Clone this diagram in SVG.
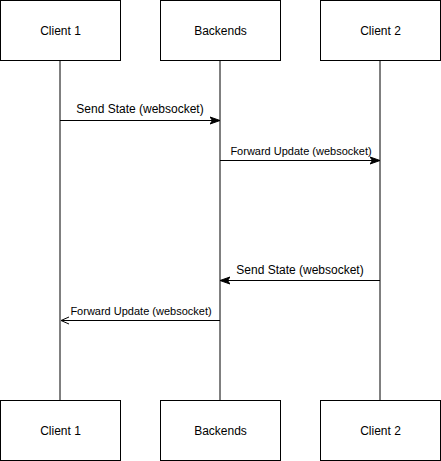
<svg xmlns="http://www.w3.org/2000/svg" width="441" height="461" viewBox="0 0 441 461">
<style>
.box{fill:#fff;stroke:#000;stroke-width:1}
.lbl{font-family:"Liberation Sans",Arial,sans-serif;font-size:12px;fill:#000;text-anchor:middle}
.sm{font-size:11px}
.life{stroke:#000;stroke-width:1;fill:none}
.msg{stroke:#000;stroke-width:1;fill:none}
</style>
<defs>
<marker id="block" viewBox="0 0 10 10" refX="9" refY="5" markerWidth="10" markerHeight="10" markerUnits="userSpaceOnUse" orient="auto">
<path d="M0,1.5 L10,5 L0,8.5 L2.5,5 Z" fill="#000" stroke="#000" stroke-width="1"/>
</marker>
<marker id="open" viewBox="0 0 10 10" refX="1" refY="5" markerWidth="10" markerHeight="10" markerUnits="userSpaceOnUse" orient="auto">
<path d="M9,1.5 L1,5 L9,8.5" fill="none" stroke="#000" stroke-width="1"/>
</marker>
</defs>
<g id="connectors">
<line class="life" x1="60" y1="60.5" x2="60" y2="400.5"/>
<line class="life" x1="220" y1="60.5" x2="220" y2="400.5"/>
<line class="life" x1="380" y1="60.5" x2="380" y2="400.5"/>
<line class="msg" x1="60" y1="120.5" x2="219" y2="120.5" marker-end="url(#block)"/>
<text class="lbl" x="140" y="113">Send State (websocket)</text>
<line class="msg" x1="220" y1="160.5" x2="379" y2="160.5" marker-end="url(#block)"/>
<text class="lbl sm" x="301" y="155">Forward Update (websocket)</text>
<line class="msg" x1="380" y1="280.5" x2="221" y2="280.5" marker-end="url(#block)"/>
<text class="lbl" x="300" y="274">Send State (websocket)</text>
<line class="msg" x1="220" y1="320.5" x2="61" y2="320.5" marker-end="url(#block)" style="marker-end:none"/>
<path d="M69,317 L61,320.5 L69,324" fill="none" stroke="#000" stroke-width="1"/>
<text class="lbl sm" x="141" y="315">Forward Update (websocket)</text>
</g>
<g id="client1-top"><rect class="box" x="0.5" y="0.5" width="120" height="60"/><text class="lbl" x="60.5" y="34.5">Client 1</text></g>
<g id="backends-top"><rect class="box" x="160.5" y="0.5" width="120" height="60"/><text class="lbl" x="220.5" y="34.5">Backends</text></g>
<g id="client2-top"><rect class="box" x="320.5" y="0.5" width="120" height="60"/><text class="lbl" x="380.5" y="34.5">Client 2</text></g>
<g id="client1-bottom"><rect class="box" x="0.5" y="400.5" width="120" height="60"/><text class="lbl" x="60.5" y="434.5">Client 1</text></g>
<g id="backends-bottom"><rect class="box" x="160.5" y="400.5" width="120" height="60"/><text class="lbl" x="220.5" y="434.5">Backends</text></g>
<g id="client2-bottom"><rect class="box" x="320.5" y="400.5" width="120" height="60"/><text class="lbl" x="380.5" y="434.5">Client 2</text></g>
</svg>
